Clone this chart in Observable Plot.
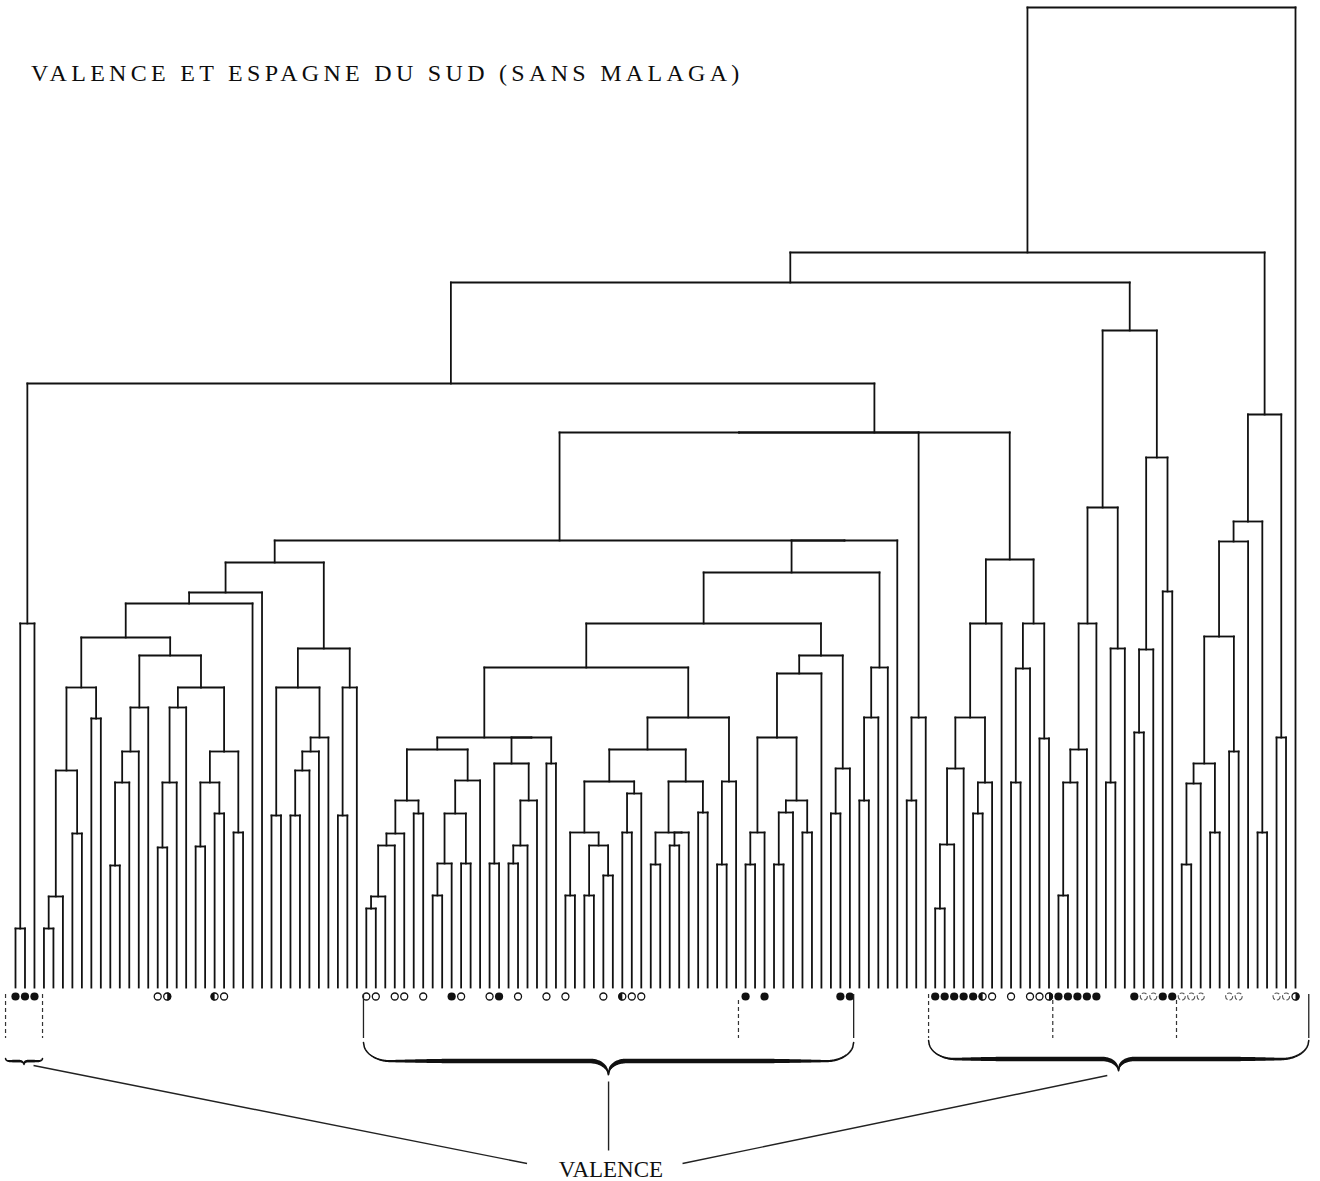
<!DOCTYPE html>
<html><head><meta charset="utf-8">
<script src="https://cdn.jsdelivr.net/npm/d3@7"></script>
<script src="https://cdn.jsdelivr.net/npm/@observablehq/plot@0.6"></script>
<style>
body{margin:0;background:#fff;}
#wrap{position:relative;width:1320px;height:1181px;overflow:hidden;}
#title{position:absolute;left:31px;top:60px;font-family:"Liberation Serif","Times New Roman",serif;font-size:24px;line-height:26px;letter-spacing:4.3px;word-spacing:0px;color:#0d0d0d;white-space:nowrap;}
g[aria-label="label"] text{letter-spacing:4.4px;}
</style></head><body>
<div id="wrap"><div id="title">VALENCE ET ESPAGNE DU SUD (SANS MALAGA)</div></div>
<script>
// ---- data ----
const leafCount = 136;
const mergeLeft = ["L0","M0","L3","M2","L6","M3","L8","M5","L10","M8","M9","M10","L15","M12","M13","L19","L21","M15","L23","M17","M14","M11","M7","M22","M23","L27","L29","M26","M27","M28","M25","L34","M31","M30","M24","L37","M35","M36","M37","L42","M38","L44","M41","L47","M42","M44","M40","L50","L52","M48","M49","M47","L56","M51","M46","L58","L60","L62","M56","M55","L64","M60","M59","L67","L69","M64","M63","L72","M66","M62","L74","M70","M69","M54","L77","M74","L80","M76","L83","M77","M75","M80","L86","M82","M81","M73","L89","M86","M87","M85","M89","M34","L94","M92","M91","L97","M95","M96","L101","M98","M97","M100","L105","M102","L108","M103","M101","M94","M1","L110","M109","M110","M111","L115","M113","M112","L118","M116","L121","M117","M115","M108","L123","M122","L126","M123","L128","M125","M127","L131","M128","L133","M130","M121","M133"];
const mergeRight = ["L1","L2","L4","L5","L7","M4","L9","M6","L11","L12","L13","L14","L16","L17","L18","L20","L22","M16","L24","M18","M19","M20","M21","L25","L26","L28","L30","L31","L32","L33","M29","L35","L36","M32","M33","L38","L39","L40","L41","L43","M39","L45","L46","L48","M43","L49","M45","L51","L53","L54","L55","M50","L57","M52","M53","L59","L61","L63","M57","M58","L65","L66","M61","L68","L70","L71","M65","L73","M67","M68","L75","L76","M71","M72","L78","L79","L81","L82","L84","M78","M79","L85","L87","L88","M83","M84","L90","L91","L92","M88","L93","M90","L95","L96","M93","L98","L99","L100","L102","L103","M99","L104","L106","L107","L109","M104","M105","M106","M107","L111","L112","L113","L114","L116","L117","M114","L119","L120","L122","M118","M119","M120","L124","L125","L127","M124","L129","M126","L130","L132","M129","L134","M131","M132","L135"];
const mergeHeight = [59,364,59,91,154,217,269,300,122,205,
  236,280,140,205,280,141,174,205,155,236,
  300,332,350,384,395,172,172,217,236,250,
  300,172,300,339,425,79,91,142,154,174,
  187,92,124,124,174,207,238,124,124,142,
  187,224,224,250,250,92,92,112,142,155,
  155,194,206,123,142,155,155,175,206,238,
  123,206,270,320,123,155,123,175,155,187,
  250,314,174,219,332,364,187,270,320,415,
  447,447,187,270,555,79,143,219,174,205,
  270,364,205,319,249,364,428,555,604,92,
  205,238,364,205,339,480,255,338,396,530,
  657,705,123,204,155,224,236,351,446,155,
  466,250,573,735,980];
const markerLeaf = [0,1,2,15,16,21,22,37,38,40,41,43,46,47,50,51,53,56,58,62,64,65,66,77,79,87,88,97,98,99,100,101,102,103,105,107,108,109,110,111,112,113,114,118,119,120,121,122,123,124,125,128,129,133,134,135];
const markerType = ["F","F","F","O","R","L","O","O","O","O","O","O","F","O","O","F","O","O","O","O","L","O","O","F","F","F","F","F","F","F","F","F","L","O","O","O","O","R","F","F","F","F","F","F","X","X","F","F","X","X","X","X","X","X","X","R"];
const groupStart = [-1.05, 36.7, 96.3];
const groupEnd = [2.85, 88.4, 136.4];
const edgeX = [-1.05, 2.85, 36.7, 88.4, 96.3, 136.4, 76.25, 109.4, 122.45];
const edgeSolid = [false, false, true, true, false, true, false, false, false];
const labelText = "VALENCE";

// ---- layout ----
const W = 1320, H = 1181;
const xDomain = [0, 135], xRange = [15, 1295];
const pxPerLeaf = (xRange[1] - xRange[0]) / (xDomain[1] - xDomain[0]);

const pos = new Map();
for (let i = 0; i < leafCount; i++) pos.set("L" + i, {x: i, h: 0});
const segs = [];
mergeLeft.forEach((l, k) => {
  const A = pos.get(l), B = pos.get(mergeRight[k]), h = mergeHeight[k];
  segs.push({x1: A.x, y1: A.h, x2: A.x, y2: h});
  segs.push({x1: B.x, y1: B.h, x2: B.x, y2: h});
  segs.push({x1: A.x, y1: h, x2: B.x, y2: h});
  pos.set("M" + k, {x: (A.x + B.x) / 2, h});
});

const markers = markerLeaf.map((leaf, i) => ({leaf, type: markerType[i]}));
const halfSymbol = side => ({
  draw(ctx, size) {
    const r = Math.sqrt(size / Math.PI);
    ctx.moveTo(0, -r);
    ctx.arc(0, 0, r, -Math.PI / 2, Math.PI / 2, side === "L");
    ctx.closePath();
  }
});
const markY = -9, markR = 4.1;

// brace styling per group
const braceStyle = [
  {top: -71, rye: 3, ryt: 3, rxe: 5, rxt: 4, t: 2.0},
  {top: -55, rye: 19, ryt: 13, rxe: 28, rxt: 18, t: 4.4},
  {top: -53, rye: 19, ryt: 11, rxe: 28, rxt: 16, t: 4.2}
];
function brace(g) {
  const a = groupStart[g], b = groupEnd[g], s0 = braceStyle[g];
  const Wh = (b - a) * pxPerLeaf / 2, N = 260, pts = [];
  for (let i = 0; i <= 2 * N; i++) {
    const s = i <= N ? i / N : (2 * N - i) / N;
    const x = s * Wh;
    let y;
    if (x < s0.rxe) y = s0.rye * Math.sqrt(Math.max(0, 1 - ((s0.rxe - x) / s0.rxe) ** 2));
    else if (x < Wh - s0.rxt) y = s0.rye;
    else y = s0.rye + s0.ryt * (1 - Math.sqrt(Math.max(0, 1 - ((x - (Wh - s0.rxt)) / s0.rxt) ** 2)));
    const xpx = i <= N ? x : 2 * Wh - x;
    const th = 0.3 + s0.t * Math.sin(Math.PI / 2 * Math.min(1, s * 2.2));
    pts.push({g, x: a + xpx / pxPerLeaf, y: s0.top - y, y1: s0.top - y + th / 2, y2: s0.top - y - th / 2});
  }
  return pts;
}
const bracePts = [0, 1, 2].flatMap(brace);
const tip = g => ({x: (groupStart[g] + groupEnd[g]) / 2, y: braceStyle[g].top - braceStyle[g].rye - braceStyle[g].ryt});
const labelX = tip(1).x, labelY = -182;
const leaders = [
  {x1: tip(0).x + 1, y1: tip(0).y - 1, x2: labelX - 8.6, y2: -176},
  {x1: labelX, y1: tip(1).y - 7, x2: labelX, y2: -163},
  {x1: tip(2).x - 1.2, y1: tip(2).y - 5, x2: labelX + 7.8, y2: -176}
];
const edges = edgeX.map((x, i) => ({x, solid: edgeSolid[i], y1: i >= 6 ? -13 : -7, y2: -51}));

const chart = Plot.plot({
  width: W, height: H,
  x: {domain: xDomain, range: xRange, axis: null},
  y: {domain: [-194, 987], range: [H, 0], axis: null},
  style: {background: "white", overflow: "visible"},
  marks: [
    Plot.link(segs, {x1: "x1", y1: "y1", x2: "x2", y2: "y2", stroke: "#111", strokeWidth: 1.8, strokeLinecap: "square"}),
    Plot.dot(markers.filter(d => d.type === "F"), {x: "leaf", y: () => markY, r: markR, fill: "#111", stroke: "none"}),
    Plot.dot(markers.filter(d => d.type === "O" || d.type === "L" || d.type === "R"), {x: "leaf", y: () => markY, r: markR - 0.6, fill: "white", stroke: "#111", strokeWidth: 1.3}),
    Plot.dot(markers.filter(d => d.type === "X"), {x: "leaf", y: () => markY, r: markR - 0.6, fill: "white", stroke: "#555", strokeWidth: 1.1, strokeDasharray: "5,2"}),
    Plot.dot(markers.filter(d => d.type === "L"), {x: "leaf", y: () => markY, r: markR, fill: "#111", stroke: "none", symbol: halfSymbol("L")}),
    Plot.dot(markers.filter(d => d.type === "R"), {x: "leaf", y: () => markY, r: markR, fill: "#111", stroke: "none", symbol: halfSymbol("R")}),
    Plot.ruleX(edges.filter(d => d.solid), {x: "x", y1: "y1", y2: "y2", stroke: "#222", strokeWidth: 1.3}),
    Plot.ruleX(edges.filter(d => !d.solid), {x: "x", y1: "y1", y2: "y2", stroke: "#333", strokeWidth: 1.2, strokeDasharray: "4,3"}),
    Plot.areaY(bracePts, {x: "x", y1: "y1", y2: "y2", z: "g", fill: "#111", curve: "linear"}),
    Plot.line(bracePts, {x: "x", y: "y", z: "g", stroke: "#111", strokeWidth: 1.5}),
    Plot.link(leaders, {x1: "x1", y1: "y1", x2: "x2", y2: "y2", stroke: "#222", strokeWidth: 1.4}),
    Plot.text([labelText], {x: () => labelX + 0.25, y: () => labelY, text: d => d, fontSize: 23, fontFamily: "Liberation Serif", fill: "#111", ariaLabel: "label"})
  ]
});
document.getElementById("wrap").appendChild(chart);
chart.style.position = "absolute";
chart.style.left = "0";
chart.style.top = "0";
document.getElementById("wrap").appendChild(document.getElementById("title"));
</script>
</body></html>
